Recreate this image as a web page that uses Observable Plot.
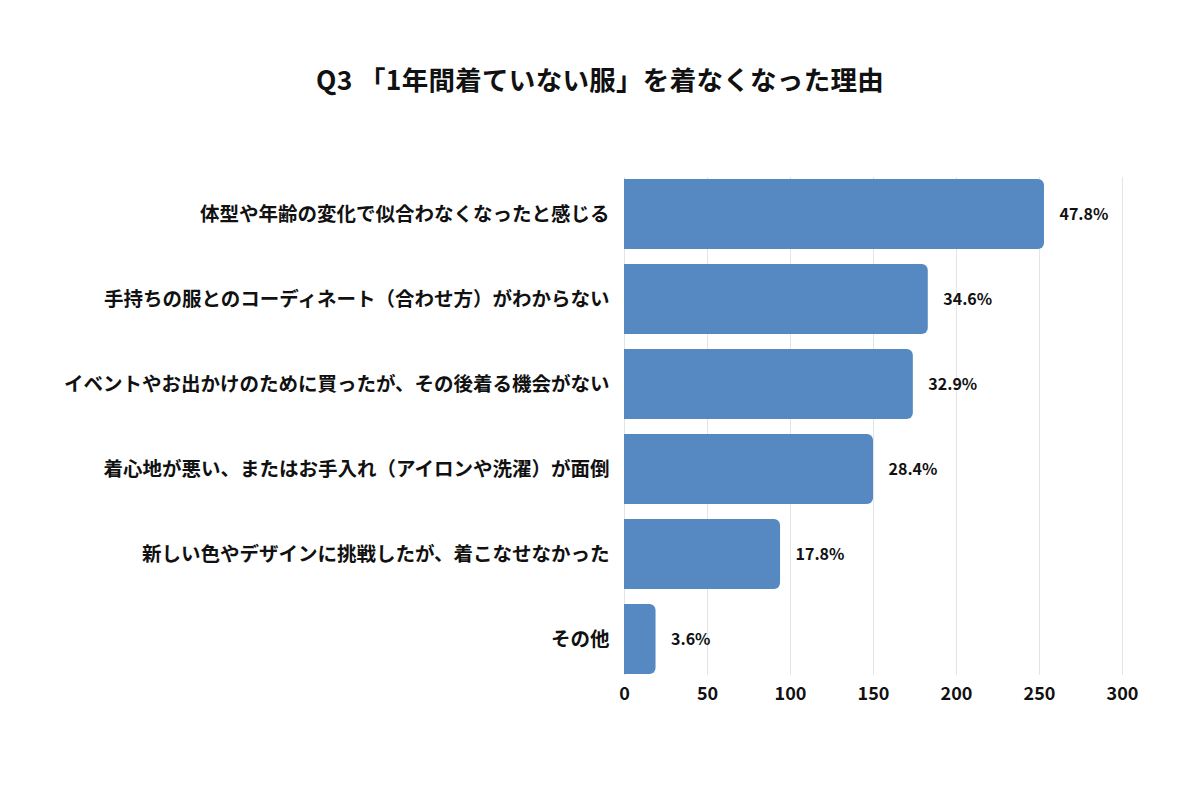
<!DOCTYPE html>
<html>
<head>
<meta charset="utf-8">
<script src="https://cdn.jsdelivr.net/npm/d3@7"></script>
<script src="https://cdn.jsdelivr.net/npm/@observablehq/plot@0.6"></script>
<style>
  html, body { margin: 0; padding: 0; background: #fff; }
  body { width: 1200px; height: 800px; font-family: "Noto Sans CJK JP", "Noto Sans", sans-serif; }
  #title { height: 120px; box-sizing: border-box; padding-top: 62px; text-align: center;
           font-size: 26.5px; font-weight: 700; line-height: 34px; color: #111; letter-spacing: 0.3px; }
  #chart svg { display: block; }
</style>
</head>
<body>
<div id="title">Q3 「1年間着ていない服」を着なくなった理由</div>
<div id="chart"></div>
<script>
const categories = [
  "体型や年齢の変化で似合わなくなったと感じる",
  "手持ちの服とのコーディネート（合わせ方）がわからない",
  "イベントやお出かけのために買ったが、その後着る機会がない",
  "着心地が悪い、またはお手入れ（アイロンや洗濯）が面倒",
  "新しい色やデザインに挑戦したが、着こなせなかった",
  "その他"
];
const counts = [253, 183, 174, 150, 94, 19];
const percents = [47.8, 34.6, 32.9, 28.4, 17.8, 3.6];
const xTicks = [0, 50, 100, 150, 200, 250, 300];

const data = categories.map((c, i) => ({category: c, value: counts[i], pct: percents[i]}));

const plot = Plot.plot({
  width: 1200,
  height: 620,
  marginTop: 49,
  marginBottom: 57,
  marginLeft: 624,
  marginRight: 78,
  style: {fontFamily: '"Noto Sans CJK JP", "Noto Sans", sans-serif', background: "transparent"},
  x: {domain: [0, 300], ticks: xTicks, label: null},
  y: {domain: categories, paddingInner: 0.18, paddingOuter: 0.09, label: null},
  marks: [
    Plot.ruleX(xTicks, {x: d => d, stroke: "#e3e3ec", strokeWidth: 1, insetTop: 8, insetBottom: 8}),
    Plot.barX(data, {y: "category", x: "value", fill: "#5689c2", rx: 6}),
    Plot.barX(data, {y: "category", x1: 0, x2: d => d.value / 2, fill: "#5689c2"}),
    Plot.text(data, {y: "category", x: "value", text: d => d.pct.toFixed(1) + "%", textAnchor: "start", dx: 15,
      fontSize: 16, fontWeight: 600, fill: "#111"}),
    Plot.axisX({ticks: xTicks, tickSize: 0, tickPadding: 4, fontSize: 18, fontWeight: 700, label: null, color: "#111"}),
    Plot.axisY({tickSize: 0, tickPadding: 15, fontSize: 19.5, fontWeight: 700, label: null, color: "#111"})
  ]
});
document.getElementById("chart").appendChild(plot);
</script>
</body>
</html>
